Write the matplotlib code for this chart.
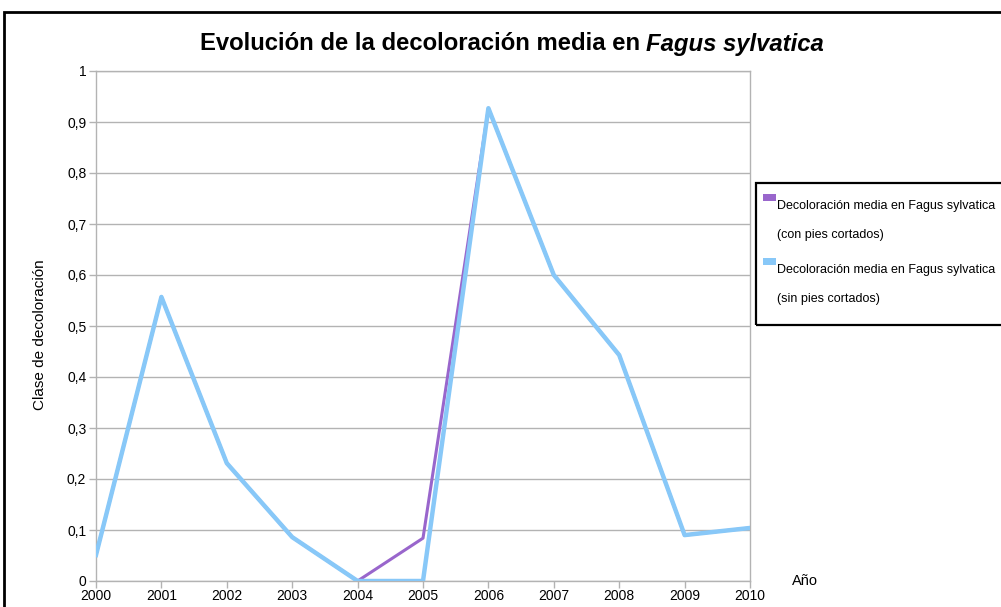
import matplotlib
matplotlib.use('Agg')
import matplotlib.pyplot as plt
from matplotlib.patches import Rectangle
import numpy as np

years = [2000, 2001, 2002, 2003, 2004, 2005, 2006, 2007, 2008, 2009, 2010]
con_pies = [0.051, 0.557, 0.231, 0.086, 0.0, 0.084, 0.927, 0.600, 0.443, 0.090, 0.104]
sin_pies = [0.051, 0.557, 0.231, 0.086, 0.0, 0.0, 0.927, 0.600, 0.443, 0.090, 0.104]
yticks = [0, 0.1, 0.2, 0.3, 0.4, 0.5, 0.6, 0.7, 0.8, 0.9, 1]
ytick_labels = ["0", "0,1", "0,2", "0,3", "0,4", "0,5", "0,6", "0,7", "0,8", "0,9", "1"]
labels = [["Decoloración media en Fagus sylvatica", "(con pies cortados)"],
          ["Decoloración media en Fagus sylvatica", "(sin pies cortados)"]]

plt.rcParams['font.family'] = ['Liberation Sans', 'DejaVu Sans']

purple = "#9966cc"
blue = "#88c8f8"
grid_c = "#b3b3b3"

W, H = 1001, 607
fig = plt.figure(figsize=(W/100, H/100), dpi=100)
ax = fig.add_axes([96/W, 26/H, 654/W, 510/H])

ax.plot(years, con_pies, color=purple, linewidth=2.2, zorder=3)
ax.plot(years, sin_pies, color=blue, linewidth=3.2, zorder=4)

ax.set_xlim(2000, 2010)
ax.set_ylim(0, 1)
ax.set_xticks(years)
ax.set_xticklabels([str(y) for y in years], fontsize=10)
ax.set_yticks(yticks)
ax.set_yticklabels(ytick_labels, fontsize=10)
ax.yaxis.grid(True, color=grid_c, linewidth=1)
ax.set_axisbelow(True)
for s in ax.spines.values():
    s.set_color(grid_c)
    s.set_linewidth(1)
ax.tick_params(axis='both', color=grid_c, length=5, width=1, pad=2)
ax.tick_params(axis='x', pad=1)

ax.set_ylabel("Clase de decoloración", fontsize=11)
ax.yaxis.set_label_coords((47 - 96) / 654, (581 - 335) / 510)
fig.text(805/W, 1 - 581/H, "Año", fontsize=10.5, ha='center', va='center')

# title with italic part
fig.canvas.draw()
r = fig.canvas.get_renderer()
t1 = fig.text(0, 1 - 44/H, "Evolución de la decoloración media en ", fontsize=17.2,
              fontweight='bold', va='center')
t2 = fig.text(0, 1 - 44/H, "Fagus sylvatica", fontsize=17.2, fontweight='bold',
              style='italic', va='center')
w1 = t1.get_window_extent(r).width
w2 = t2.get_window_extent(r).width
x0 = 512 - (w1 + w2) / 2
t1.set_x(x0 / W)
t2.set_x((x0 + w1) / W)

# outer frame
fig.patches.append(Rectangle((4/W, -0.01), 1.02, 1 - 12/H + 0.01, transform=fig.transFigure,
                             fill=False, edgecolor='black', linewidth=2, clip_on=False))

# legend box
fig.patches.append(Rectangle((756/W, 1 - 325/H), 1.0, 142/H, transform=fig.transFigure,
                             fill=False, edgecolor='black', linewidth=1.6, clip_on=False))
probe = fig.text(0, 0, labels[0][0], fontsize=10)
leg_fs = 10 * 219 / probe.get_window_extent(r).width
probe.remove()
for i, (lab, col) in enumerate(zip(labels, [purple, blue])):
    yc = 206 + i * 64
    fig.patches.append(Rectangle((763/W, 1 - (yc - 5)/H), 13/W, 7/H,
                                 transform=fig.transFigure, facecolor=col, edgecolor='none'))
    fig.text(777/W, 1 - yc/H, lab[0], fontsize=leg_fs, va='center', ha='left')
    fig.text(777/W, 1 - (yc + 29)/H, lab[1], fontsize=leg_fs, va='center', ha='left')

fig.savefig("out.png", dpi=100)
